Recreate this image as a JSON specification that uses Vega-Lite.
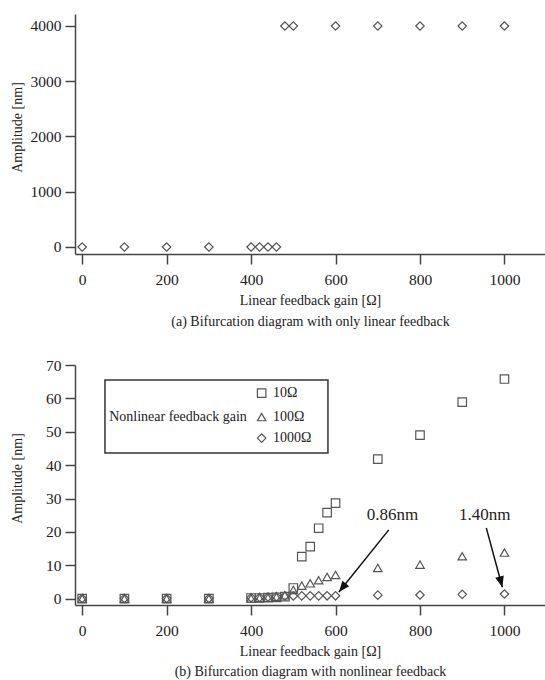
{
  "$schema": "https://vega.github.io/schema/vega-lite/v6.json",
  "padding": {"left": 10, "top": 14, "right": 0, "bottom": 0},
  "bounds": "flush",
  "spacing": 111,
  "background": "white",
  "config": {
    "font": "Liberation Serif",
    "view": {"stroke": null},
    "axis": {
      "grid": false, "domainColor": "#444", "domainWidth": 1.5,
      "tickColor": "#444", "tickWidth": 1.5, "tickSize": 10,
      "labelFont": "Liberation Serif", "labelFontSize": 15.5, "labelColor": "#222",
      "titleFont": "Liberation Serif", "titleFontSize": 14, "titleFontWeight": "normal",
      "titleColor": "#222", "labelOverlap": false, "format": "d"
    }
  },
  "datasets": {
    "top": [
      {"x": 0, "y": 0}, {"x": 100, "y": 0}, {"x": 200, "y": 0}, {"x": 300, "y": 0},
      {"x": 400, "y": 0}, {"x": 420, "y": 0}, {"x": 440, "y": 0}, {"x": 460, "y": 0},
      {"x": 480, "y": 4000}, {"x": 500, "y": 4000}, {"x": 600, "y": 4000}, {"x": 700, "y": 4000},
      {"x": 800, "y": 4000}, {"x": 900, "y": 4000}, {"x": 1000, "y": 4000}
    ],
    "bottom": [
      {"series": "10Ω", "x": 0, "y": 0}, {"series": "10Ω", "x": 100, "y": 0}, {"series": "10Ω", "x": 200, "y": 0}, {"series": "10Ω", "x": 300, "y": 0},
      {"series": "10Ω", "x": 400, "y": 0.2}, {"series": "10Ω", "x": 420, "y": 0.2}, {"series": "10Ω", "x": 440, "y": 0.3}, {"series": "10Ω", "x": 460, "y": 0.4},
      {"series": "10Ω", "x": 480, "y": 0.6}, {"series": "10Ω", "x": 500, "y": 3.2}, {"series": "10Ω", "x": 520, "y": 12.6}, {"series": "10Ω", "x": 540, "y": 15.6},
      {"series": "10Ω", "x": 560, "y": 21.1}, {"series": "10Ω", "x": 580, "y": 25.8}, {"series": "10Ω", "x": 600, "y": 28.6}, {"series": "10Ω", "x": 700, "y": 41.8},
      {"series": "10Ω", "x": 800, "y": 49.0}, {"series": "10Ω", "x": 900, "y": 58.9}, {"series": "10Ω", "x": 1000, "y": 65.8},
      {"series": "100Ω", "x": 0, "y": 0}, {"series": "100Ω", "x": 100, "y": 0}, {"series": "100Ω", "x": 200, "y": 0}, {"series": "100Ω", "x": 300, "y": 0},
      {"series": "100Ω", "x": 400, "y": 0.1}, {"series": "100Ω", "x": 420, "y": 0.2}, {"series": "100Ω", "x": 440, "y": 0.3}, {"series": "100Ω", "x": 460, "y": 0.5},
      {"series": "100Ω", "x": 480, "y": 1.0}, {"series": "100Ω", "x": 500, "y": 2.6}, {"series": "100Ω", "x": 520, "y": 3.9}, {"series": "100Ω", "x": 540, "y": 4.6},
      {"series": "100Ω", "x": 560, "y": 5.5}, {"series": "100Ω", "x": 580, "y": 6.5}, {"series": "100Ω", "x": 600, "y": 7.1}, {"series": "100Ω", "x": 700, "y": 9.2},
      {"series": "100Ω", "x": 800, "y": 10.2}, {"series": "100Ω", "x": 900, "y": 12.7}, {"series": "100Ω", "x": 1000, "y": 13.8},
      {"series": "1000Ω", "x": 0, "y": 0.1}, {"series": "1000Ω", "x": 100, "y": 0.1}, {"series": "1000Ω", "x": 200, "y": 0.1}, {"series": "1000Ω", "x": 300, "y": 0.1},
      {"series": "1000Ω", "x": 400, "y": 0.3}, {"series": "1000Ω", "x": 420, "y": 0.4}, {"series": "1000Ω", "x": 440, "y": 0.5}, {"series": "1000Ω", "x": 460, "y": 0.6},
      {"series": "1000Ω", "x": 480, "y": 0.8}, {"series": "1000Ω", "x": 500, "y": 0.8}, {"series": "1000Ω", "x": 520, "y": 0.84}, {"series": "1000Ω", "x": 540, "y": 0.85},
      {"series": "1000Ω", "x": 560, "y": 0.85}, {"series": "1000Ω", "x": 580, "y": 0.86}, {"series": "1000Ω", "x": 600, "y": 0.86}, {"series": "1000Ω", "x": 700, "y": 1.05},
      {"series": "1000Ω", "x": 800, "y": 1.1}, {"series": "1000Ω", "x": 900, "y": 1.3}, {"series": "1000Ω", "x": 1000, "y": 1.4}
    ],
    "box": [{"x": 54, "x2": 582, "y": 43.6, "y2": 65.5}],
    "legendSym": [
      {"series": "10Ω", "x": 425, "y": 61.6},
      {"series": "100Ω", "x": 425, "y": 54.4},
      {"series": "1000Ω", "x": 425, "y": 48.1}
    ],
    "legendText": [
      {"label": "10Ω", "x": 452, "y": 61.6},
      {"label": "100Ω", "x": 452, "y": 54.4},
      {"label": "1000Ω", "x": 452, "y": 48.1},
      {"label": "Nonlinear feedback gain", "x": 64, "y": 54.4}
    ],
    "arrows": [
      {"x": 726, "y": 20.6, "x2": 608, "y2": 2.0, "angle": 219},
      {"x": 957, "y": 21.2, "x2": 995, "y2": 3.4, "angle": 165}
    ],
    "notes": [
      {"label": "0.86nm", "x": 735, "y": 25},
      {"label": "1.40nm", "x": 953, "y": 25}
    ]
  },
  "vconcat": [
    {
      "width": 470, "height": 240,
      "data": {"name": "top"},
      "mark": {"type": "point", "shape": "diamond", "size": 72, "filled": false, "stroke": "#555", "strokeWidth": 1.2, "opacity": 1},
      "encoding": {
        "x": {"field": "x", "type": "quantitative", "scale": {"domain": [-17, 1096], "nice": false, "zero": false},
          "axis": {"values": [0, 200, 400, 600, 800, 1000], "labelPadding": 8, "titlePadding": 6, "titleLineHeight": 21,
            "title": ["Linear feedback gain [Ω]", "(a) Bifurcation diagram with only linear feedback"]}},
        "y": {"field": "y", "type": "quantitative", "scale": {"domain": [-127, 4217], "nice": false, "zero": false},
          "axis": {"values": [0, 1000, 2000, 3000, 4000], "labelPadding": 4, "title": "Amplitude [nm]",
            "titleX": -58, "titleY": 113, "titleAngle": -90, "titleAlign": "center", "titleBaseline": "middle"}}
      }
    },
    {
      "width": 470, "height": 240,
      "encoding": {
        "x": {"field": "x", "type": "quantitative", "scale": {"domain": [-17, 1096], "nice": false, "zero": false},
          "axis": {"values": [0, 200, 400, 600, 800, 1000], "labelPadding": 8, "titlePadding": 6, "titleLineHeight": 20,
            "title": ["Linear feedback gain [Ω]", "(b) Bifurcation diagram with nonlinear feedback"]}},
        "y": {"field": "y", "type": "quantitative", "scale": {"domain": [-1.9, 70], "nice": false, "zero": false},
          "axis": {"values": [0, 10, 20, 30, 40, 50, 60, 70], "labelPadding": 4, "title": "Amplitude [nm]",
            "titleX": -58, "titleY": 113, "titleAngle": -90, "titleAlign": "center", "titleBaseline": "middle"}}
      },
      "layer": [
        {
          "data": {"name": "bottom"},
          "mark": {"type": "point", "size": 72, "filled": false, "stroke": "#555", "strokeWidth": 1.2, "opacity": 1},
          "encoding": {
            "shape": {"field": "series", "type": "nominal", "scale": {"domain": ["10Ω", "100Ω", "1000Ω"], "range": ["square", "triangle-up", "diamond"]}, "legend": null}
          }
        },
        {
          "data": {"name": "box"},
          "mark": {"type": "rect", "filled": false, "stroke": "#333", "strokeWidth": 1.5},
          "encoding": {"x2": {"field": "x2"}, "y2": {"field": "y2"}}
        },
        {
          "data": {"name": "legendSym"},
          "mark": {"type": "point", "size": 72, "filled": false, "stroke": "#555", "strokeWidth": 1.2, "opacity": 1},
          "encoding": {
            "shape": {"field": "series", "type": "nominal", "legend": null}
          }
        },
        {
          "data": {"name": "legendText"},
          "mark": {"type": "text", "align": "left", "baseline": "middle", "fontSize": 14, "font": "Liberation Serif", "color": "#222"},
          "encoding": {"text": {"field": "label"}}
        },
        {
          "data": {"name": "arrows"},
          "mark": {"type": "rule", "color": "#111", "strokeWidth": 1.5},
          "encoding": {"x2": {"field": "x2"}, "y2": {"field": "y2"}}
        },
        {
          "data": {"name": "arrows"},
          "mark": {"type": "point", "shape": "M0,0L-0.4,1L0.4,1Z", "size": 480, "filled": true, "color": "#111", "opacity": 1},
          "encoding": {
            "x": {"field": "x2", "type": "quantitative"},
            "y": {"field": "y2", "type": "quantitative"},
            "angle": {"field": "angle", "type": "quantitative", "scale": null}
          }
        },
        {
          "data": {"name": "notes"},
          "mark": {"type": "text", "align": "center", "baseline": "middle", "fontSize": 17, "font": "Liberation Serif", "color": "#222"},
          "encoding": {"text": {"field": "label"}}
        }
      ]
    }
  ]
}
